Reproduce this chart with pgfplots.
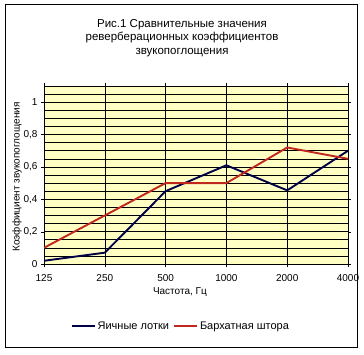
\documentclass[border=0pt]{standalone}
\usepackage{pgfplots}
\pgfplotsset{compat=1.18}
\usepackage{fontspec}
\setmainfont{Liberation Sans}
\definecolor{navyline}{HTML}{000048}
\definecolor{redline}{HTML}{C0281E}
\definecolor{bgyellow}{HTML}{FFFFC4}
\begin{document}
\begin{tikzpicture}[x=1pt,y=1pt]
\path[use as bounding box, fill=white] (0,0) rectangle (364,354);
\draw[line width=1pt] (5,7) rectangle (357,349);
\node[align=center, font=\fontsize{11.5}{13.5}\selectfont] at (182,316) {Рис.1 Сравнительные значения\\реверберационных коэффициентов\\звукопоглощения};
\node[rotate=90, font=\fontsize{10}{12}\selectfont] at (17,177) {Коэффициент звукопоглощения};
\begin{axis}[
  at={(44pt,90pt)}, anchor=south west, scale only axis,
  width=304pt, height=178pt,
  xmin=0, xmax=5, ymin=0, ymax=1.1,
  xtick={0,1,2,3,4,5},
  xticklabels={125,250,500,1000,2000,4000},
  ytick={0,0.2,0.4,0.6,0.8,1},
  minor ytick={0.05,0.1,...,1.1},
  grid=both,
  major grid style={black, line width=0.5pt},
  minor grid style={black, line width=0.5pt},
  minor tick length=0pt,
  tick align=outside, major tick length=3pt,
  tick style={black},
  axis line style={black, line width=0.6pt},
  axis background/.style={fill=bgyellow},
  /pgf/number format/assume math mode=true,
  /pgf/number format/use comma,
  yticklabel style={/pgf/number format/fixed, /pgf/number format/precision=1},
  xticklabel style={yshift=-4pt},
  tick label style={font=\fontsize{10}{12}\selectfont},
  xlabel={Частота, Гц},
  xlabel style={font=\fontsize{10}{12}\selectfont, at={(axis description cs:0.447,-0.155)}, anchor=center},
  legend style={at={(0.45,-0.35)}, anchor=center, draw=none, fill=none,
    font=\fontsize{11}{13}\selectfont, legend columns=2,
    /tikz/every even column/.append style={column sep=2pt}},
  legend cell align=left,
  legend image code/.code={\draw[#1, line width=2pt] (0pt,0pt) -- (23pt,0pt);},
]
\addplot[navyline, line width=1.9pt] coordinates {(0,0.02) (1,0.07) (2,0.45) (3,0.61) (4,0.455) (5,0.70)};
\addlegendentry{Яичные лотки}
\addplot[redline, line width=1.9pt] coordinates {(0,0.10) (1,0.30) (2,0.50) (3,0.50) (4,0.72) (5,0.65)};
\addlegendentry{Бархатная штора}
\end{axis}
\end{tikzpicture}
\end{document}
